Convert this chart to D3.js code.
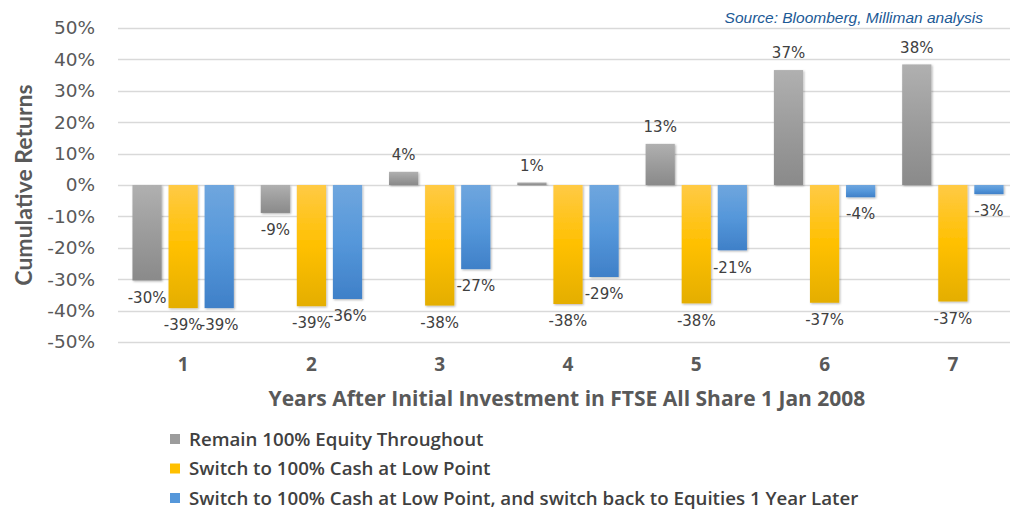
<!DOCTYPE html>
<html>
<head>
<meta charset="utf-8">
<script src="https://cdn.jsdelivr.net/npm/d3@7"></script>
<style>
	body { margin:0; background:#fff; }
</style>
</head>
<body>
<script>
// chart data
var years = ['1','2','3','4','5','6','7'];
var seriesNames = ['Remain 100% Equity Throughout',
	'Switch to 100% Cash at Low Point',
	'Switch to 100% Cash at Low Point, and switch back to Equities 1 Year Later'];
var equity = [-30.4, -8.9, 4.2, 0.8, 13.1, 36.6, 38.4];
var cashLow = [-39.2, -38.6, -38.4, -37.9, -37.7, -37.5, -37.1];
var cashBack = [-39.2, -36.3, -26.8, -29.3, -20.8, -3.9, -2.9];
var yTicks = [-50, -40, -30, -20, -10, 0, 10, 20, 30, 40, 50];

var svgW = 1011, svgH = 509;
var keys = ['eq', 'cash', 'back'];
var table = years.map(function(y, i){
	return {year:y, eq:equity[i], cash:cashLow[i], back:cashBack[i]};
});

var svg = d3.select('body').append('svg').attr('width', svgW).attr('height', svgH)
	.attr('font-family', '"DejaVu Sans", Verdana, sans-serif');
var defs = svg.append('defs');

// gradient fills, one per series
var grads = {
	eq: ['#b0b0b0', '#9c9c9c', '#8a8a8a'],
	cash: ['#ffca45', '#ffc000', '#e4ae00'],
	back: ['#6fa6de', '#5597da', '#3f80c8']
};
keys.forEach(function(k){
	var g = defs.append('linearGradient').attr('id', 'g_' + k)
		.attr('x1', 0).attr('y1', 0).attr('x2', 0).attr('y2', 1);
	g.append('stop').attr('offset', '0%').attr('stop-color', grads[k][0]);
	g.append('stop').attr('offset', '50%').attr('stop-color', grads[k][1]);
	g.append('stop').attr('offset', '100%').attr('stop-color', grads[k][2]);
});
var f = defs.append('filter').attr('id', 'shadow').attr('x', '-20%').attr('y', '-20%').attr('width', '140%').attr('height', '140%');
f.append('feDropShadow').attr('dx', 1).attr('dy', 1).attr('stdDeviation', 1.2).attr('flood-color', '#000').attr('flood-opacity', 0.3);

var y = d3.scaleLinear().domain([-50, 50]).range([342, 28]);
var x0 = d3.scaleBand().domain(years).range([119, 1017]).paddingInner(0.21).paddingOuter(0.105);
var x1 = d3.scaleBand().domain(keys).range([0, x0.bandwidth()]).paddingInner(0.19);

// gridlines
svg.append('g').attr('id', 'g_grid').selectAll('line').data(yTicks).enter().append('line')
	.attr('x1', 118).attr('x2', 1010)
	.attr('y1', function(d){ return Math.round(y(d)) + 0.5; }).attr('y2', function(d){ return Math.round(y(d)) + 0.5; })
	.attr('stroke', '#d9d9d9').attr('stroke-width', 1.3);

// y axis labels
var yAxis = d3.axisLeft(y).tickValues(yTicks).tickSize(0).tickPadding(0)
	.tickFormat(function(d){ return d + '%'; });
svg.append('g').attr('transform', 'translate(95,0)').call(yAxis)
	.call(function(g){ g.select('.domain').remove(); })
	.selectAll('text').attr('font-family', '"DejaVu Sans", sans-serif')
	.attr('font-size', 18.5).attr('fill', '#595959');

// x axis labels
var xAxis = d3.axisBottom(x0).tickSize(0).tickPadding(0);
svg.append('g').attr('transform', 'translate(0,357)').call(xAxis)
	.call(function(g){ g.select('.domain').remove(); })
	.selectAll('text').attr('font-family', '"Open Sans", sans-serif').attr('font-weight', 700)
	.attr('font-size', 19).attr('fill', '#595959');

// bars
var groups = svg.append('g').attr('id', 'g_bars').selectAll('g').data(table).enter().append('g')
	.attr('transform', function(d){ return 'translate(' + x0(d.year) + ',0)'; });
var bars = groups.selectAll('rect').data(function(d){
	return keys.map(function(k){ return {key:k, v:d[k]}; });
}).enter();
bars.append('rect')
	.attr('x', function(d){ return x1(d.key); })
	.attr('width', x1.bandwidth())
	.attr('y', function(d){ return y(Math.max(0, d.v)); })
	.attr('height', function(d){ return Math.abs(y(d.v) - y(0)); })
	.attr('fill', function(d){ return 'url(#g_' + d.key + ')'; })
	.attr('filter', 'url(#shadow)');

// data labels
bars.append('text')
	.attr('x', function(d){ return x1(d.key) + x1.bandwidth() / 2; })
	.attr('y', function(d){ return d.v >= 0 ? y(d.v) - 17 : y(d.v) + 17; })
	.attr('dy', '0.35em').attr('text-anchor', 'middle')
	.attr('font-size', 15).attr('fill', '#404040')
	.text(function(d){ return Math.round(d.v) + '%'; });

// axis titles
svg.append('text').attr('transform', 'translate(32,185) rotate(-90)')
	.attr('text-anchor', 'middle').attr('font-family', 'Lato, sans-serif').attr('font-weight', 700)
	.attr('font-size', 23).attr('fill', '#595959').text('Cumulative Returns');
svg.append('text').attr('x', 567).attr('y', 406).attr('text-anchor', 'middle')
	.attr('font-family', '"Open Sans", sans-serif').attr('font-weight', 700)
	.attr('font-size', 21).attr('fill', '#595959')
	.text('Years After Initial Investment in FTSE All Share 1 Jan 2008');

// source
svg.append('text').attr('x', 983).attr('y', 23).attr('text-anchor', 'end')
	.attr('font-family', '"Liberation Sans", Arial, sans-serif').attr('font-style', 'italic')
	.attr('font-size', 15.5).attr('fill', '#1c5a96')
	.text('Source: Bloomberg, Milliman analysis');

// legend
var legend = svg.append('g').attr('id', 'g_legend').selectAll('g').data(keys).enter().append('g')
	.attr('transform', function(d, i){ return 'translate(170,' + (439 + i * 29.5) + ')'; });
legend.append('rect').attr('x', 0).attr('y', -5).attr('width', 10).attr('height', 10)
	.attr('fill', function(d){ return grads[d][1]; });
legend.append('text').attr('x', 19).attr('dy', '0.35em')
	.attr('font-family', '"Open Sans", sans-serif').attr('font-weight', 600)
	.attr('font-size', 18.7).attr('fill', '#404040')
	.text(function(d, i){ return seriesNames[i]; });
</script>
</body>
</html>
